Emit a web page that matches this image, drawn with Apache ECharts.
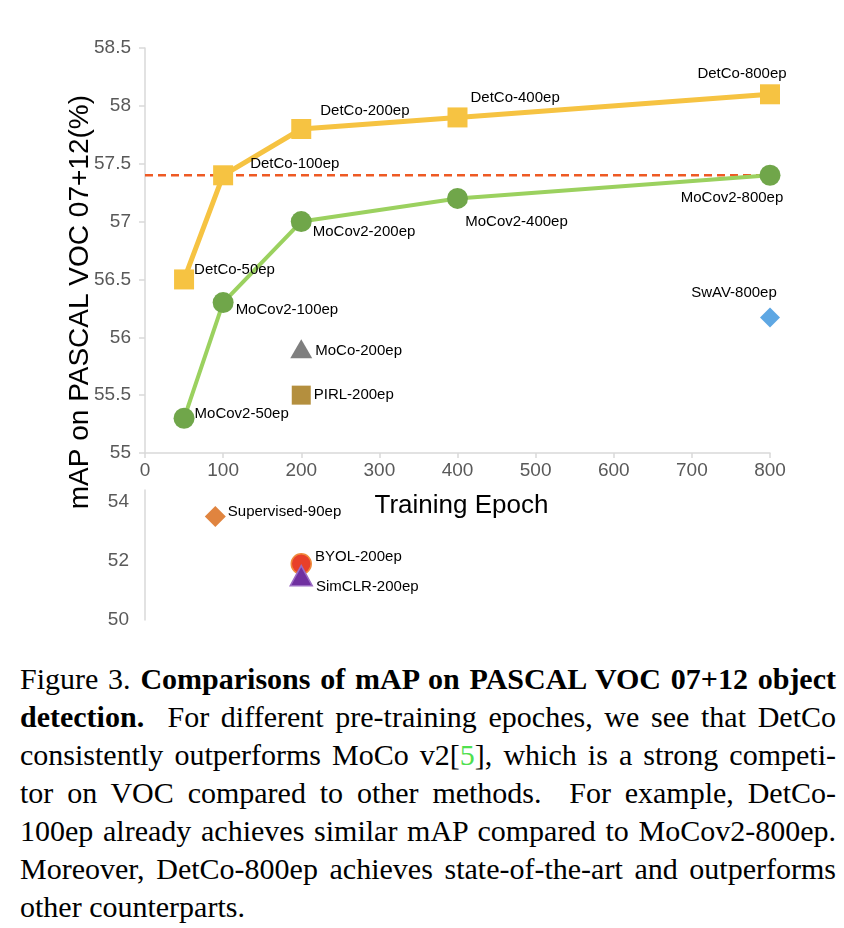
<!DOCTYPE html>
<html><head><meta charset="utf-8">
<script src="https://cdn.jsdelivr.net/npm/echarts@6/dist/echarts.min.js"></script>
<style>
html,body{margin:0;padding:0;background:#fff;}
#chart{position:absolute;left:0;top:0;width:844px;height:650px;}
#cap{position:absolute;left:20px;top:660px;width:816px;font-family:"Liberation Serif","DejaVu Serif",serif;font-size:30px;line-height:38px;color:#000;}
#cap div{white-space:nowrap;text-align:justify;text-align-last:justify;}
#cap div.last{text-align:left;text-align-last:left;}
</style></head>
<body>
<div id="chart"></div>
<div id="cap">
<div>Figure 3. <b>Comparisons of mAP on PASCAL VOC 07+12 object</b></div>
<div><b>detection.</b>&nbsp; For different pre-training epoches, we see that DetCo</div>
<div>consistently outperforms MoCo v2[<span style="color:#4fe04f">5</span>], which is a strong competi-</div>
<div>tor on VOC compared to other methods.&nbsp; For example, DetCo-</div>
<div>100ep already achieves similar mAP compared to MoCov2-800ep.</div>
<div>Moreover, DetCo-800ep achieves state-of-the-art and outperforms</div>
<div class="last">other counterparts.</div>
</div>
<script>
// ---- data ----
const epochs = [50, 100, 200, 400, 800];
const detcoMAP = [56.5, 57.4, 57.8, 57.9, 58.1];
const mocov2MAP = [55.3, 56.3, 57.0, 57.2, 57.4];
const detcoLabels = ['DetCo-50ep', 'DetCo-100ep', 'DetCo-200ep', 'DetCo-400ep', 'DetCo-800ep'];
const mocov2Labels = ['MoCov2-50ep', 'MoCov2-100ep', 'MoCov2-200ep', 'MoCov2-400ep', 'MoCov2-800ep'];
const refLineMAP = 57.4;
const refLineEpochs = [0, 800];
// upper-panel single methods
const upperNames = ['SwAV-800ep', 'MoCo-200ep', 'PIRL-200ep'];
const upperEpochs = [800, 200, 200];
const upperMAP = [56.17, 55.9, 55.5];
// lower-panel single methods
const lowerNames = ['Supervised-90ep', 'BYOL-200ep', 'SimCLR-200ep'];
const lowerEpochs = [90, 200, 200];
const lowerMAP = [53.5, 51.9, 51.5];

// ---- styles ----
const FONT = '"Liberation Sans", Arial, sans-serif';
const lblBase = {show: true, color: '#000', fontSize: 15, fontFamily: FONT};
const detcoLblPos = [
  {position: 'right', offset: [-5, -10]},
  {position: 'right', offset: [12, -11]},
  {position: 'right', offset: [4, -18]},
  {position: 'right', offset: [-2, -20]},
  {position: 'top', offset: [-28, 2]}
];
const mocoLblPos = [
  {position: 'right', offset: [-5, -4]},
  {position: 'right', offset: [-3, 7]},
  {position: 'right', offset: [-4, 10]},
  {position: 'bottom', offset: [59, 0]},
  {position: 'bottom', offset: [-38, 0]}
];
const upperStyle = [
  {symbol: 'diamond', size: [20, 20], color: '#5EA7E3', lbl: {position: 'top', offset: [-36, -2]}},
  {symbol: 'triangle', size: [22, 19], color: '#7F7F7F', lbl: {position: 'right', offset: [-2, 2]}},
  {symbol: 'rect', size: [19, 19], color: '#B48F3E', lbl: {position: 'right', offset: [-2, 0]}}
];
const lowerStyle = [
  {symbol: 'diamond', size: [21, 21], color: '#E0843F', lbl: {position: 'right', offset: [-3, -5]}},
  {symbol: 'circle', size: [20, 20], color: '#E8402A', border: '#F08A3C', lbl: {position: 'right', offset: [-2, -7]}},
  {symbol: 'triangle', size: [22, 20], color: '#7030A0', border: '#9B6BC4', lbl: {position: 'right', offset: [-2, 11]}}
];

const axisGray = '#D9D9D9';
const tickLblColor = '#595959';

const series = [];
series.push({
  type: 'line', xAxisIndex: 0, yAxisIndex: 0, z: 2,
  data: refLineEpochs.map(e => [e, refLineMAP]),
  symbol: 'none', silent: true,
  lineStyle: {color: '#EE5A24', width: 2.5, type: [8, 5]}
});
series.push({
  type: 'line', xAxisIndex: 0, yAxisIndex: 0, z: 3,
  data: epochs.map((e, i) => ({value: [e, mocov2MAP[i]], label: Object.assign({}, lblBase, mocoLblPos[i], {formatter: mocov2Labels[i]})})),
  symbol: 'circle', symbolSize: 21,
  itemStyle: {color: '#70A64A', opacity: 1},
  lineStyle: {color: '#9BD15F', width: 4}
});
series.push({
  type: 'line', xAxisIndex: 0, yAxisIndex: 0, z: 4,
  data: epochs.map((e, i) => ({value: [e, detcoMAP[i]], label: Object.assign({}, lblBase, detcoLblPos[i], {formatter: detcoLabels[i]})})),
  symbol: 'rect', symbolSize: 20,
  itemStyle: {color: '#F6C342', opacity: 1},
  lineStyle: {color: '#F6C342', width: 5}
});
upperNames.forEach((n, i) => {
  const s = upperStyle[i];
  series.push({
    type: 'scatter', xAxisIndex: 0, yAxisIndex: 0, z: 5,
    data: [[upperEpochs[i], upperMAP[i]]],
    symbol: s.symbol, symbolSize: s.size,
    itemStyle: {color: s.color, opacity: 1},
    label: Object.assign({}, lblBase, s.lbl, {formatter: n})
  });
});
lowerNames.forEach((n, i) => {
  const s = lowerStyle[i];
  series.push({
    type: 'scatter', xAxisIndex: 1, yAxisIndex: 1, z: 5 + i,
    data: [[lowerEpochs[i], lowerMAP[i]]],
    symbol: s.symbol, symbolSize: s.size,
    itemStyle: {color: s.color, opacity: 1, borderColor: s.border || s.color, borderWidth: s.border ? 1.5 : 0},
    label: Object.assign({}, lblBase, s.lbl, {formatter: n})
  });
});

const chart = echarts.init(document.getElementById('chart'), null, {renderer: 'canvas'});
chart.setOption({
  animation: false,
  backgroundColor: '#fff',
  grid: [
    {left: 145, right: 74, top: 48, height: 405},
    {left: 145, right: 74, top: 490, height: 130}
  ],
  xAxis: [
    {
      gridIndex: 0, type: 'value', min: 0, max: 800, interval: 100,
      name: 'Training Epoch', nameLocation: 'middle', nameGap: 40,
      nameTextStyle: {color: '#000', fontSize: 26, fontFamily: FONT, padding: [0, 0, 0, 8]},
      axisLine: {show: true, lineStyle: {color: axisGray, width: 1.5}},
      axisTick: {show: true, length: 5, lineStyle: {color: axisGray, width: 1.5}},
      axisLabel: {color: tickLblColor, fontSize: 19, fontFamily: FONT, margin: 8},
      splitLine: {show: false}
    },
    {
      gridIndex: 1, type: 'value', min: 0, max: 800, show: false, splitLine: {show: false}
    }
  ],
  yAxis: [
    {
      gridIndex: 0, type: 'value', min: 55, max: 58.5, interval: 0.5,
      axisLine: {show: true, lineStyle: {color: axisGray, width: 1.5}},
      axisTick: {show: true, length: 6, lineStyle: {color: axisGray, width: 1.5}},
      axisLabel: {color: tickLblColor, fontSize: 19, fontFamily: FONT, margin: 14},
      splitLine: {show: false}
    },
    {
      gridIndex: 1, type: 'value', min: 50, max: 54.4, interval: 2,
      axisLine: {show: true, lineStyle: {color: axisGray, width: 1.5}},
      axisTick: {show: false},
      axisLabel: {color: tickLblColor, fontSize: 19, fontFamily: FONT, margin: 16, showMaxLabel: false},
      splitLine: {show: false}
    }
  ],
  graphic: [{
    type: 'text', left: 66, top: 95, rotation: Math.PI / 2,
    style: {text: 'mAP on PASCAL VOC 07+12(%)', fill: '#000', fontSize: 28, fontFamily: FONT}
  }],
  series: series
});
</script>
</body></html>
